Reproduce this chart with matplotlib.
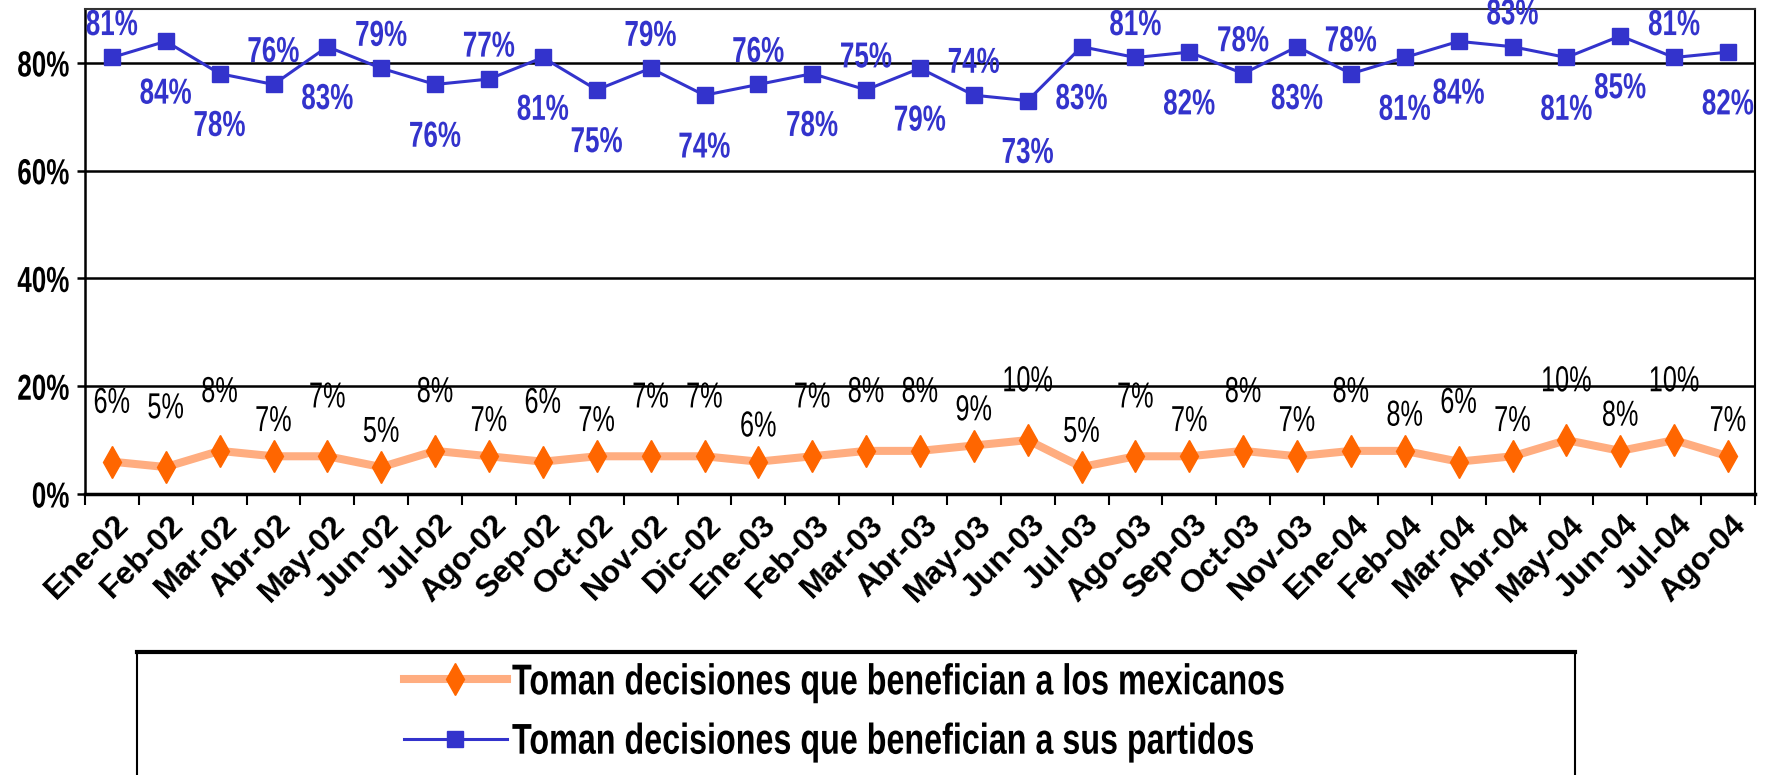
import numpy as np
import matplotlib
matplotlib.use("Agg")
import matplotlib.pyplot as plt
from matplotlib.patches import Rectangle
from matplotlib.patheffects import AbstractPathEffect
from matplotlib.transforms import Affine2D, ScaledTranslation
from matplotlib.ticker import FixedLocator, PercentFormatter

# --- data ---
months = ["Ene-02", "Feb-02", "Mar-02", "Abr-02", "May-02", "Jun-02", "Jul-02",
          "Ago-02", "Sep-02", "Oct-02", "Nov-02", "Dic-02", "Ene-03", "Feb-03",
          "Mar-03", "Abr-03", "May-03", "Jun-03", "Jul-03", "Ago-03", "Sep-03",
          "Oct-03", "Nov-03", "Ene-04", "Feb-04", "Mar-04", "Abr-04", "May-04",
          "Jun-04", "Jul-04", "Ago-04"]
mexicanos = [6, 5, 8, 7, 7, 5, 8, 7, 6, 7, 7, 7, 6, 7, 8, 8, 9, 10, 5, 7, 7,
             8, 7, 8, 8, 6, 7, 10, 8, 10, 7]
partidos = [81, 84, 78, 76, 83, 79, 76, 77, 81, 75, 79, 74, 76, 78, 75, 79, 74,
            73, 83, 81, 82, 78, 83, 78, 81, 84, 83, 81, 85, 81, 82]
label_mex = "Toman decisiones que benefician a los mexicanos"
label_par = "Toman decisiones que benefician a sus partidos"

# label placement (style): blue above(1)/below(0), orange high(1)/low(0)
par_above = [1, 0, 0, 1, 0, 1, 0, 1, 0, 0, 1, 0, 1, 0, 1, 0, 1, 0, 0, 1, 0,
             1, 0, 1, 0, 0, 1, 0, 0, 1, 0]
mex_high = [1, 1, 1, 0, 1, 0, 1, 0, 1, 0, 1, 1, 0, 1, 1, 1, 0, 1, 0, 1, 0,
            1, 0, 1, 0, 1, 0, 1, 0, 1, 0]

BLUE = "#3333CC"
ORANGE_LINE = "#FFAD80"
ORANGE_MARK = "#FF6600"
FONT = ["Liberation Sans", "DejaVu Sans"]


class Condense(AbstractPathEffect):
    """Squeeze drawn text horizontally (the original uses a narrow face)."""

    def __init__(self, sx=0.8, anchor="center"):
        super().__init__()
        self.sx = sx
        self.anchor = anchor

    def draw_path(self, renderer, gc, tpath, affine, rgbFace=None):
        verts = affine.transform(tpath.vertices)
        if len(verts):
            if self.anchor == "left":
                cx = verts[:, 0].min()
            elif self.anchor == "right":
                cx = verts[:, 0].max()
            else:
                cx = (verts[:, 0].min() + verts[:, 0].max()) / 2
            affine = affine + Affine2D().translate(-cx, 0).scale(self.sx, 1).translate(cx, 0)
        renderer.draw_path(gc, tpath, affine, rgbFace)


x = np.arange(len(months))
fig = plt.figure(figsize=(17.67, 7.75), dpi=100)
ax = fig.add_axes([85 / 1767, 1 - 494 / 775, (1755 - 85) / 1767, (494 - 9) / 775])

ax.plot(x, mexicanos, color=ORANGE_LINE, lw=5.8, marker="d", ms=16,
        mfc=ORANGE_MARK, mec=ORANGE_MARK, label=label_mex, zorder=3)
ax.plot(x, partidos, color=BLUE, lw=2.2, marker="s", ms=11,
        mfc=BLUE, mec=BLUE, label=label_par, zorder=3)

for i, v in enumerate(partidos):
    dy = 23 if par_above[i] else -38
    ax.annotate(f"{v}%", (i, v), xytext=(0, dy), textcoords="offset points",
                ha="center", va="center", color=BLUE, fontsize=26,
                fontweight="bold", family=FONT, annotation_clip=False,
                path_effects=[Condense(0.72)])
for i, v in enumerate(mexicanos):
    dy = 42 if mex_high[i] else 25
    ax.annotate(f"{v}%", (i, v), xytext=(0, dy), textcoords="offset points",
                ha="center", va="center", color="black", fontsize=26,
                family=FONT, annotation_clip=False,
                path_effects=[Condense(0.7)])

ax.set_xlim(-0.5, len(months) - 0.5)
ax.set_ylim(0, 90)
ax.yaxis.set_major_locator(FixedLocator([0, 20, 40, 60, 80]))
ax.yaxis.set_major_formatter(PercentFormatter(decimals=0))
for y in [20, 40, 60, 80]:
    ax.axhline(y, color="black", lw=1.8, zorder=1)

ax.set_xticks(x)
ax.set_xticklabels(months)
ax.set_xticks(np.arange(-0.5, len(months)), minor=True)
ax.tick_params(axis="x", which="major", length=0, pad=19)
ax.tick_params(axis="x", which="minor", length=8, width=1.5, direction="out")
ax.tick_params(axis="y", length=6, width=1.8, direction="out", pad=5)
shift = ScaledTranslation(0.13, 0, fig.dpi_scale_trans)
for lab in ax.get_xticklabels():
    lab.set_fontsize(23)
    lab.set_fontweight("bold")
    lab.set_family(FONT)
    lab.set_rotation(45)
    lab.set_rotation_mode("anchor")
    lab.set_ha("right")
    lab.set_va("center")
    lab.set_transform(lab.get_transform() + shift)
for lab in ax.get_yticklabels():
    lab.set_fontsize(26)
    lab.set_fontweight("bold")
    lab.set_family(FONT)
    lab.set_path_effects([Condense(0.72, "right")])

ax.spines["bottom"].set_linewidth(2.5)
ax.spines["left"].set_linewidth(1.8)
ax.spines["right"].set_linewidth(1.5)
ax.spines["top"].set_linewidth(1.5)
ax.spines["top"].set_color("#333333")

# legend box, cut off by the bottom of the picture like the reference
fig.patches.append(Rectangle((137 / 1767, -0.1), (1575 - 137) / 1767,
                             0.1 + (775 - 652) / 775, transform=fig.transFigure,
                             fill=False, edgecolor="black", lw=1.5))
fig.add_artist(plt.Line2D([137 / 1767, 1575 / 1767], [1 - 652 / 775] * 2,
                          transform=fig.transFigure, color="black", lw=3))
leg = fig.legend(loc="center left", bbox_to_anchor=(382 / 1767, 1 - 713 / 775),
                 frameon=False, borderpad=0, handlelength=2.4,
                 handletextpad=0.12, labelspacing=0.45,
                 prop={"family": FONT, "weight": "bold", "size": 31})
for t in leg.get_texts():
    t.set_path_effects([Condense(0.75, "left")])

fig.savefig("out.png", dpi=100)
